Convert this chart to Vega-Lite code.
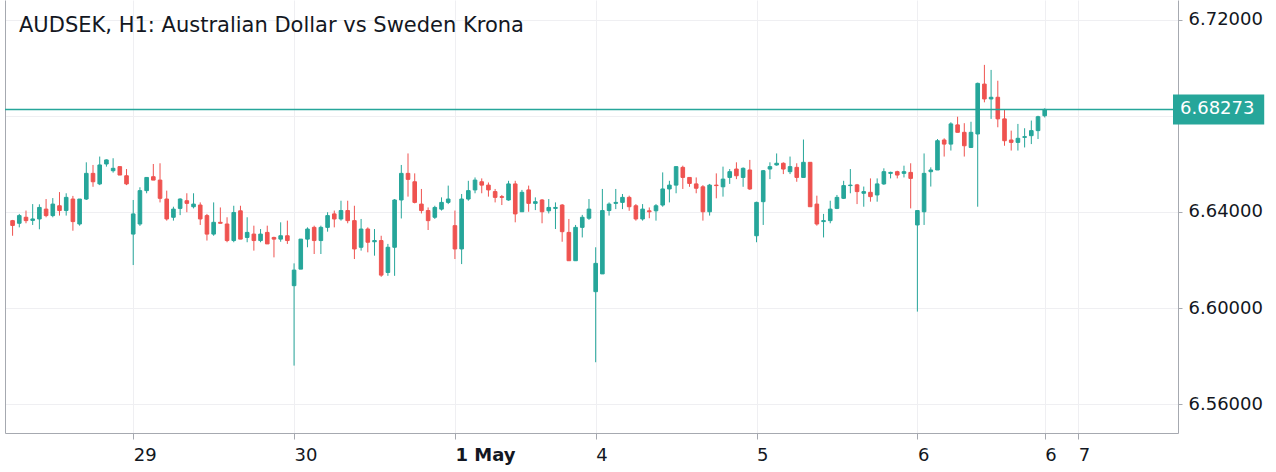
{
"$schema": "https://vega.github.io/schema/vega-lite/v6.json",
"width": 1173, "height": 433,
"autosize": {"type": "none"},
"padding": {"left": 5, "top": 0, "right": 98, "bottom": 39},
"background": "white",
"config": {"view": {"stroke": null}, "font": "DejaVu Sans"},
"title": {"text": "AUDSEK, H1: Australian Dollar vs Sweden Krona", "anchor": "start", "frame": "group", "orient": "top", "baseline": "alphabetic", "offset": 0, "dx": 14, "dy": 53, "fontSize": 21, "fontWeight": "normal", "color": "#131722", "font": "DejaVu Sans"},
"data": {"values": [
{"i":0,"o":6.6364,"h":6.6367,"l":6.6301,"c":6.6344},
{"i":1,"o":6.6353,"h":6.6392,"l":6.6336,"c":6.6385},
{"i":2,"o":6.6378,"h":6.6406,"l":6.6353,"c":6.6364},
{"i":3,"o":6.6365,"h":6.6433,"l":6.6346,"c":6.6371},
{"i":4,"o":6.6371,"h":6.6432,"l":6.6328,"c":6.6419},
{"i":5,"o":6.6412,"h":6.6454,"l":6.6378,"c":6.6385},
{"i":6,"o":6.6385,"h":6.6458,"l":6.6378,"c":6.6433},
{"i":7,"o":6.6426,"h":6.6483,"l":6.6385,"c":6.6406},
{"i":8,"o":6.6406,"h":6.6478,"l":6.6385,"c":6.6461},
{"i":9,"o":6.6454,"h":6.6467,"l":6.6322,"c":6.6360},
{"i":10,"o":6.6350,"h":6.6454,"l":6.6343,"c":6.6454},
{"i":11,"o":6.6454,"h":6.6607,"l":6.6450,"c":6.6561},
{"i":12,"o":6.6561,"h":6.6596,"l":6.6505,"c":6.6526},
{"i":13,"o":6.6517,"h":6.6631,"l":6.6512,"c":6.6596},
{"i":14,"o":6.6600,"h":6.6619,"l":6.6589,"c":6.6617},
{"i":15,"o":6.6572,"h":6.6624,"l":6.6564,"c":6.6582},
{"i":16,"o":6.6589,"h":6.6589,"l":6.6554,"c":6.6554},
{"i":17,"o":6.6551,"h":6.6579,"l":6.6512,"c":6.6517},
{"i":18,"o":6.6308,"h":6.6450,"l":6.6179,"c":6.6392},
{"i":19,"o":6.6350,"h":6.6503,"l":6.6342,"c":6.6489},
{"i":20,"o":6.6489,"h":6.6544,"l":6.6478,"c":6.6544},
{"i":21,"o":6.6547,"h":6.6600,"l":6.6533,"c":6.6533},
{"i":22,"o":6.6533,"h":6.6603,"l":6.6440,"c":6.6457},
{"i":23,"o":6.6454,"h":6.6489,"l":6.6364,"c":6.6371},
{"i":24,"o":6.6378,"h":6.6422,"l":6.6364,"c":6.6412},
{"i":25,"o":6.6415,"h":6.6457,"l":6.6387,"c":6.6454},
{"i":26,"o":6.6447,"h":6.6478,"l":6.6399,"c":6.6436},
{"i":27,"o":6.6422,"h":6.6478,"l":6.6415,"c":6.6433},
{"i":28,"o":6.6429,"h":6.6440,"l":6.6346,"c":6.6371},
{"i":29,"o":6.6385,"h":6.6392,"l":6.6281,"c":6.6308},
{"i":30,"o":6.6308,"h":6.6440,"l":6.6301,"c":6.6357},
{"i":31,"o":6.6357,"h":6.6419,"l":6.6353,"c":6.6353},
{"i":32,"o":6.6350,"h":6.6378,"l":6.6274,"c":6.6281},
{"i":33,"o":6.6281,"h":6.6426,"l":6.6274,"c":6.6398},
{"i":34,"o":6.6405,"h":6.6426,"l":6.6287,"c":6.6287},
{"i":35,"o":6.6294,"h":6.6378,"l":6.6274,"c":6.6315},
{"i":36,"o":6.6308,"h":6.6343,"l":6.6239,"c":6.6281},
{"i":37,"o":6.6281,"h":6.6329,"l":6.6274,"c":6.6308},
{"i":38,"o":6.6315,"h":6.6343,"l":6.6267,"c":6.6267},
{"i":39,"o":6.6294,"h":6.6297,"l":6.6211,"c":6.6287},
{"i":40,"o":6.6287,"h":6.6357,"l":6.6276,"c":6.6301},
{"i":41,"o":6.6301,"h":6.6364,"l":6.6267,"c":6.6281},
{"i":42,"o":6.6093,"h":6.6186,"l":6.5760,"c":6.6158},
{"i":43,"o":6.6162,"h":6.6287,"l":6.6162,"c":6.6287},
{"i":44,"o":6.6287,"h":6.6336,"l":6.6253,"c":6.6329},
{"i":45,"o":6.6336,"h":6.6343,"l":6.6225,"c":6.6281},
{"i":46,"o":6.6281,"h":6.6343,"l":6.6225,"c":6.6336},
{"i":47,"o":6.6336,"h":6.6399,"l":6.6318,"c":6.6385},
{"i":48,"o":6.6392,"h":6.6406,"l":6.6336,"c":6.6371},
{"i":49,"o":6.6371,"h":6.6447,"l":6.6364,"c":6.6406},
{"i":50,"o":6.6406,"h":6.6447,"l":6.6353,"c":6.6364},
{"i":51,"o":6.6364,"h":6.6426,"l":6.6204,"c":6.6246},
{"i":52,"o":6.6253,"h":6.6371,"l":6.6239,"c":6.6329},
{"i":53,"o":6.6329,"h":6.6336,"l":6.6232,"c":6.6274},
{"i":54,"o":6.6276,"h":6.6329,"l":6.6218,"c":6.6281},
{"i":55,"o":6.6281,"h":6.6301,"l":6.6130,"c":6.6137},
{"i":56,"o":6.6148,"h":6.6267,"l":6.6134,"c":6.6253},
{"i":57,"o":6.6253,"h":6.6454,"l":6.6134,"c":6.6450},
{"i":58,"o":6.6450,"h":6.6596,"l":6.6373,"c":6.6561},
{"i":59,"o":6.6561,"h":6.6644,"l":6.6464,"c":6.6536},
{"i":60,"o":6.6526,"h":6.6561,"l":6.6436,"c":6.6440},
{"i":61,"o":6.6433,"h":6.6496,"l":6.6394,"c":6.6406},
{"i":62,"o":6.6406,"h":6.6419,"l":6.6325,"c":6.6364},
{"i":63,"o":6.6378,"h":6.6426,"l":6.6371,"c":6.6419},
{"i":64,"o":6.6412,"h":6.6461,"l":6.6406,"c":6.6440},
{"i":65,"o":6.6440,"h":6.6510,"l":6.6433,"c":6.6454},
{"i":66,"o":6.6343,"h":6.6406,"l":6.6204,"c":6.6246},
{"i":67,"o":6.6246,"h":6.6475,"l":6.6183,"c":6.6454},
{"i":68,"o":6.6454,"h":6.6530,"l":6.6447,"c":6.6489},
{"i":69,"o":6.6492,"h":6.6544,"l":6.6478,"c":6.6533},
{"i":70,"o":6.6526,"h":6.6540,"l":6.6478,"c":6.6512},
{"i":71,"o":6.6512,"h":6.6523,"l":6.6464,"c":6.6492},
{"i":72,"o":6.6485,"h":6.6496,"l":6.6440,"c":6.6461},
{"i":73,"o":6.6464,"h":6.6471,"l":6.6429,"c":6.6461},
{"i":74,"o":6.6450,"h":6.6530,"l":6.6447,"c":6.6517},
{"i":75,"o":6.6517,"h":6.6530,"l":6.6357,"c":6.6392},
{"i":76,"o":6.6401,"h":6.6492,"l":6.6401,"c":6.6482},
{"i":77,"o":6.6492,"h":6.6510,"l":6.6401,"c":6.6436},
{"i":78,"o":6.6436,"h":6.6461,"l":6.6408,"c":6.6443},
{"i":79,"o":6.6450,"h":6.6454,"l":6.6353,"c":6.6401},
{"i":80,"o":6.6405,"h":6.6454,"l":6.6394,"c":6.6419},
{"i":81,"o":6.6415,"h":6.6440,"l":6.6329,"c":6.6419},
{"i":82,"o":6.6429,"h":6.6433,"l":6.6276,"c":6.6318},
{"i":83,"o":6.6315,"h":6.6371,"l":6.6197,"c":6.6197},
{"i":84,"o":6.6197,"h":6.6346,"l":6.6197,"c":6.6336},
{"i":85,"o":6.6336,"h":6.6388,"l":6.6294,"c":6.6378},
{"i":86,"o":6.6374,"h":6.6454,"l":6.6367,"c":6.6412},
{"i":87,"o":6.6068,"h":6.6253,"l":6.5774,"c":6.6186},
{"i":88,"o":6.6142,"h":6.6496,"l":6.6142,"c":6.6406},
{"i":89,"o":6.6406,"h":6.6440,"l":6.6385,"c":6.6433},
{"i":90,"o":6.6436,"h":6.6496,"l":6.6412,"c":6.6440},
{"i":91,"o":6.6440,"h":6.6475,"l":6.6412,"c":6.6461},
{"i":92,"o":6.6461,"h":6.6468,"l":6.6405,"c":6.6422},
{"i":93,"o":6.6426,"h":6.6433,"l":6.6364,"c":6.6371},
{"i":94,"o":6.6371,"h":6.6433,"l":6.6364,"c":6.6412},
{"i":95,"o":6.6405,"h":6.6419,"l":6.6374,"c":6.6401},
{"i":96,"o":6.6405,"h":6.6433,"l":6.6364,"c":6.6426},
{"i":97,"o":6.6429,"h":6.6565,"l":6.6422,"c":6.6496},
{"i":98,"o":6.6496,"h":6.6530,"l":6.6440,"c":6.6512},
{"i":99,"o":6.6512,"h":6.6589,"l":6.6478,"c":6.6589},
{"i":100,"o":6.6586,"h":6.6593,"l":6.6496,"c":6.6544},
{"i":101,"o":6.6544,"h":6.6544,"l":6.6505,"c":6.6519},
{"i":102,"o":6.6517,"h":6.6544,"l":6.6478,"c":6.6499},
{"i":103,"o":6.6505,"h":6.6512,"l":6.6364,"c":6.6401},
{"i":104,"o":6.6401,"h":6.6517,"l":6.6385,"c":6.6512},
{"i":105,"o":6.6512,"h":6.6561,"l":6.6457,"c":6.6510},
{"i":106,"o":6.6505,"h":6.6589,"l":6.6464,"c":6.6537},
{"i":107,"o":6.6544,"h":6.6579,"l":6.6517,"c":6.6568},
{"i":108,"o":6.6579,"h":6.6607,"l":6.6537,"c":6.6551},
{"i":109,"o":6.6544,"h":6.6586,"l":6.6505,"c":6.6582},
{"i":110,"o":6.6575,"h":6.6617,"l":6.6492,"c":6.6496},
{"i":111,"o":6.6301,"h":6.6443,"l":6.6274,"c":6.6440},
{"i":112,"o":6.6443,"h":6.6575,"l":6.6346,"c":6.6572},
{"i":113,"o":6.6579,"h":6.6607,"l":6.6537,"c":6.6589},
{"i":114,"o":6.6596,"h":6.6644,"l":6.6593,"c":6.6603},
{"i":115,"o":6.6603,"h":6.6607,"l":6.6558,"c":6.6579},
{"i":116,"o":6.6568,"h":6.6631,"l":6.6558,"c":6.6589},
{"i":117,"o":6.6586,"h":6.6603,"l":6.6526,"c":6.6544},
{"i":118,"o":6.6544,"h":6.6702,"l":6.6544,"c":6.6607},
{"i":119,"o":6.6607,"h":6.6607,"l":6.6422,"c":6.6422},
{"i":120,"o":6.6433,"h":6.6468,"l":6.6343,"c":6.6350},
{"i":121,"o":6.6360,"h":6.6392,"l":6.6294,"c":6.6364},
{"i":122,"o":6.6364,"h":6.6447,"l":6.6353,"c":6.6412},
{"i":123,"o":6.6415,"h":6.6471,"l":6.6412,"c":6.6461},
{"i":124,"o":6.6457,"h":6.6530,"l":6.6454,"c":6.6510},
{"i":125,"o":6.6510,"h":6.6579,"l":6.6478,"c":6.6512},
{"i":126,"o":6.6513,"h":6.6517,"l":6.6433,"c":6.6485},
{"i":127,"o":6.6478,"h":6.6506,"l":6.6422,"c":6.6485},
{"i":128,"o":6.6482,"h":6.6540,"l":6.6443,"c":6.6464},
{"i":129,"o":6.6471,"h":6.6540,"l":6.6443,"c":6.6517},
{"i":130,"o":6.6517,"h":6.6582,"l":6.6513,"c":6.6568},
{"i":131,"o":6.6561,"h":6.6568,"l":6.6540,"c":6.6565},
{"i":132,"o":6.6568,"h":6.6572,"l":6.6540,"c":6.6554},
{"i":133,"o":6.6561,"h":6.6593,"l":6.6544,"c":6.6568},
{"i":134,"o":6.6565,"h":6.6603,"l":6.6415,"c":6.6540},
{"i":135,"o":6.6346,"h":6.6406,"l":6.5985,"c":6.6406},
{"i":136,"o":6.6401,"h":6.6644,"l":6.6346,"c":6.6561},
{"i":137,"o":6.6568,"h":6.6586,"l":6.6506,"c":6.6575},
{"i":138,"o":6.6575,"h":6.6704,"l":6.6575,"c":6.6697},
{"i":139,"o":6.6700,"h":6.6707,"l":6.6631,"c":6.6683},
{"i":140,"o":6.6683,"h":6.6774,"l":6.6656,"c":6.6767},
{"i":141,"o":6.6763,"h":6.6797,"l":6.6732,"c":6.6732},
{"i":142,"o":6.6732,"h":6.6770,"l":6.6631,"c":6.6676},
{"i":143,"o":6.6669,"h":6.6776,"l":6.6669,"c":6.6732},
{"i":144,"o":6.6725,"h":6.6939,"l":6.6422,"c":6.6936},
{"i":145,"o":6.6933,"h":6.7013,"l":6.6857,"c":6.6871},
{"i":146,"o":6.6871,"h":6.6992,"l":6.6788,"c":6.6878},
{"i":147,"o":6.6878,"h":6.6947,"l":6.6753,"c":6.6788},
{"i":148,"o":6.6788,"h":6.6825,"l":6.6676,"c":6.6697},
{"i":149,"o":6.6700,"h":6.6739,"l":6.6656,"c":6.6690},
{"i":150,"o":6.6690,"h":6.6767,"l":6.6656,"c":6.6707},
{"i":151,"o":6.6711,"h":6.6749,"l":6.6669,"c":6.6714},
{"i":152,"o":6.6718,"h":6.6781,"l":6.6683,"c":6.6739},
{"i":153,"o":6.6739,"h":6.6801,"l":6.6704,"c":6.6797},
{"i":154,"o":6.6801,"h":6.6832,"l":6.6794,"c":6.68273}
]},
"resolve": {"axis": {"y": "independent"}},
"layer": [
{"mark": {"type": "rule", "strokeWidth": 1},
 "encoding": {
  "x": {"field": "i", "type": "quantitative", "scale": {"domain": [-0.385, 173.14], "nice": false, "zero": false},
   "axis": {"orient": "bottom", "title": null, "values": [18, 42, 66, 87, 111, 135, 154, 159],
    "labelExpr": "datum.value==18?'29':datum.value==42?'30':datum.value==66?'1 May':datum.value==87?'4':datum.value==111?'5':datum.value==159?'7':'6'",
    "labelAlign": "left", "labelOverlap": false, "labelFlush": false, "labelFontSize": 18, "labelColor": "#131722", "labelPadding": 7, "labelDx": -5,
    "labelFontWeight": {"condition": {"test": "datum.value == 66", "value": "bold"}, "value": "normal"},
    "tickSize": 6, "tickColor": "#a6a9b0", "domainColor": "#a6a9b0", "grid": true, "gridColor": "#efeff2"}},
  "y": {"field": "l", "type": "quantitative", "scale": {"domain": [6.547917, 6.728333], "nice": false, "zero": false},
   "axis": {"orient": "right", "title": null, "values": [6.56, 6.6, 6.64, 6.68, 6.72],
    "labelExpr": "datum.value > 6.679 && datum.value < 6.681 ? '' : format(datum.value, '.5f')",
    "labelFontSize": 18, "labelColor": "#131722", "labelPadding": 6, "tickSize": 4, "tickColor": "#a6a9b0", "domainColor": "#a6a9b0",
    "grid": true, "gridColor": "#efeff2"}},
  "y2": {"field": "h"},
  "color": {"condition": {"test": "datum.c >= datum.o", "value": "#26a69a"}, "value": "#ef5350"}
 }},
{"mark": {"type": "bar", "size": 3.6, "strokeWidth": 1},
 "encoding": {
  "x": {"field": "i", "type": "quantitative"},
  "y": {"field": "o", "type": "quantitative", "axis": null},
  "y2": {"field": "c"},
  "color": {"condition": {"test": "datum.c >= datum.o", "value": "#26a69a"}, "value": "#ef5350"},
  "stroke": {"condition": {"test": "datum.c >= datum.o", "value": "#26a69a"}, "value": "#ef5350"}
 }},
{"data": {"values": [{"p": 6.68273}]},
 "mark": {"type": "rule", "stroke": "#26a69a", "color": "#26a69a", "strokeWidth": 1.6, "opacity": 1},
 "encoding": {
  "y": {"field": "p", "type": "quantitative", "axis": {"orient": "left", "labels": false, "ticks": false, "grid": false, "title": null, "domainColor": "#a6a9b0"}}
 }},
{"data": {"values": [{"x1": 173.14, "x2": 186.75, "y1": 6.68898, "y2": 6.67648}]},
 "mark": {"type": "rect", "color": "#26a69a"},
 "encoding": {
  "x": {"field": "x1", "type": "quantitative"},
  "x2": {"field": "x2"},
  "y": {"field": "y1", "type": "quantitative", "axis": null},
  "y2": {"field": "y2"}
 }},
{"data": {"values": [{"x": 173.14, "p": 6.68273, "t": "6.68273"}]},
 "mark": {"type": "text", "align": "left", "baseline": "middle", "dx": 7, "fontSize": 18, "color": "white", "font": "DejaVu Sans"},
 "encoding": {
  "x": {"field": "x", "type": "quantitative"},
  "y": {"field": "p", "type": "quantitative", "axis": null},
  "text": {"field": "t"}
 }}
]
}
